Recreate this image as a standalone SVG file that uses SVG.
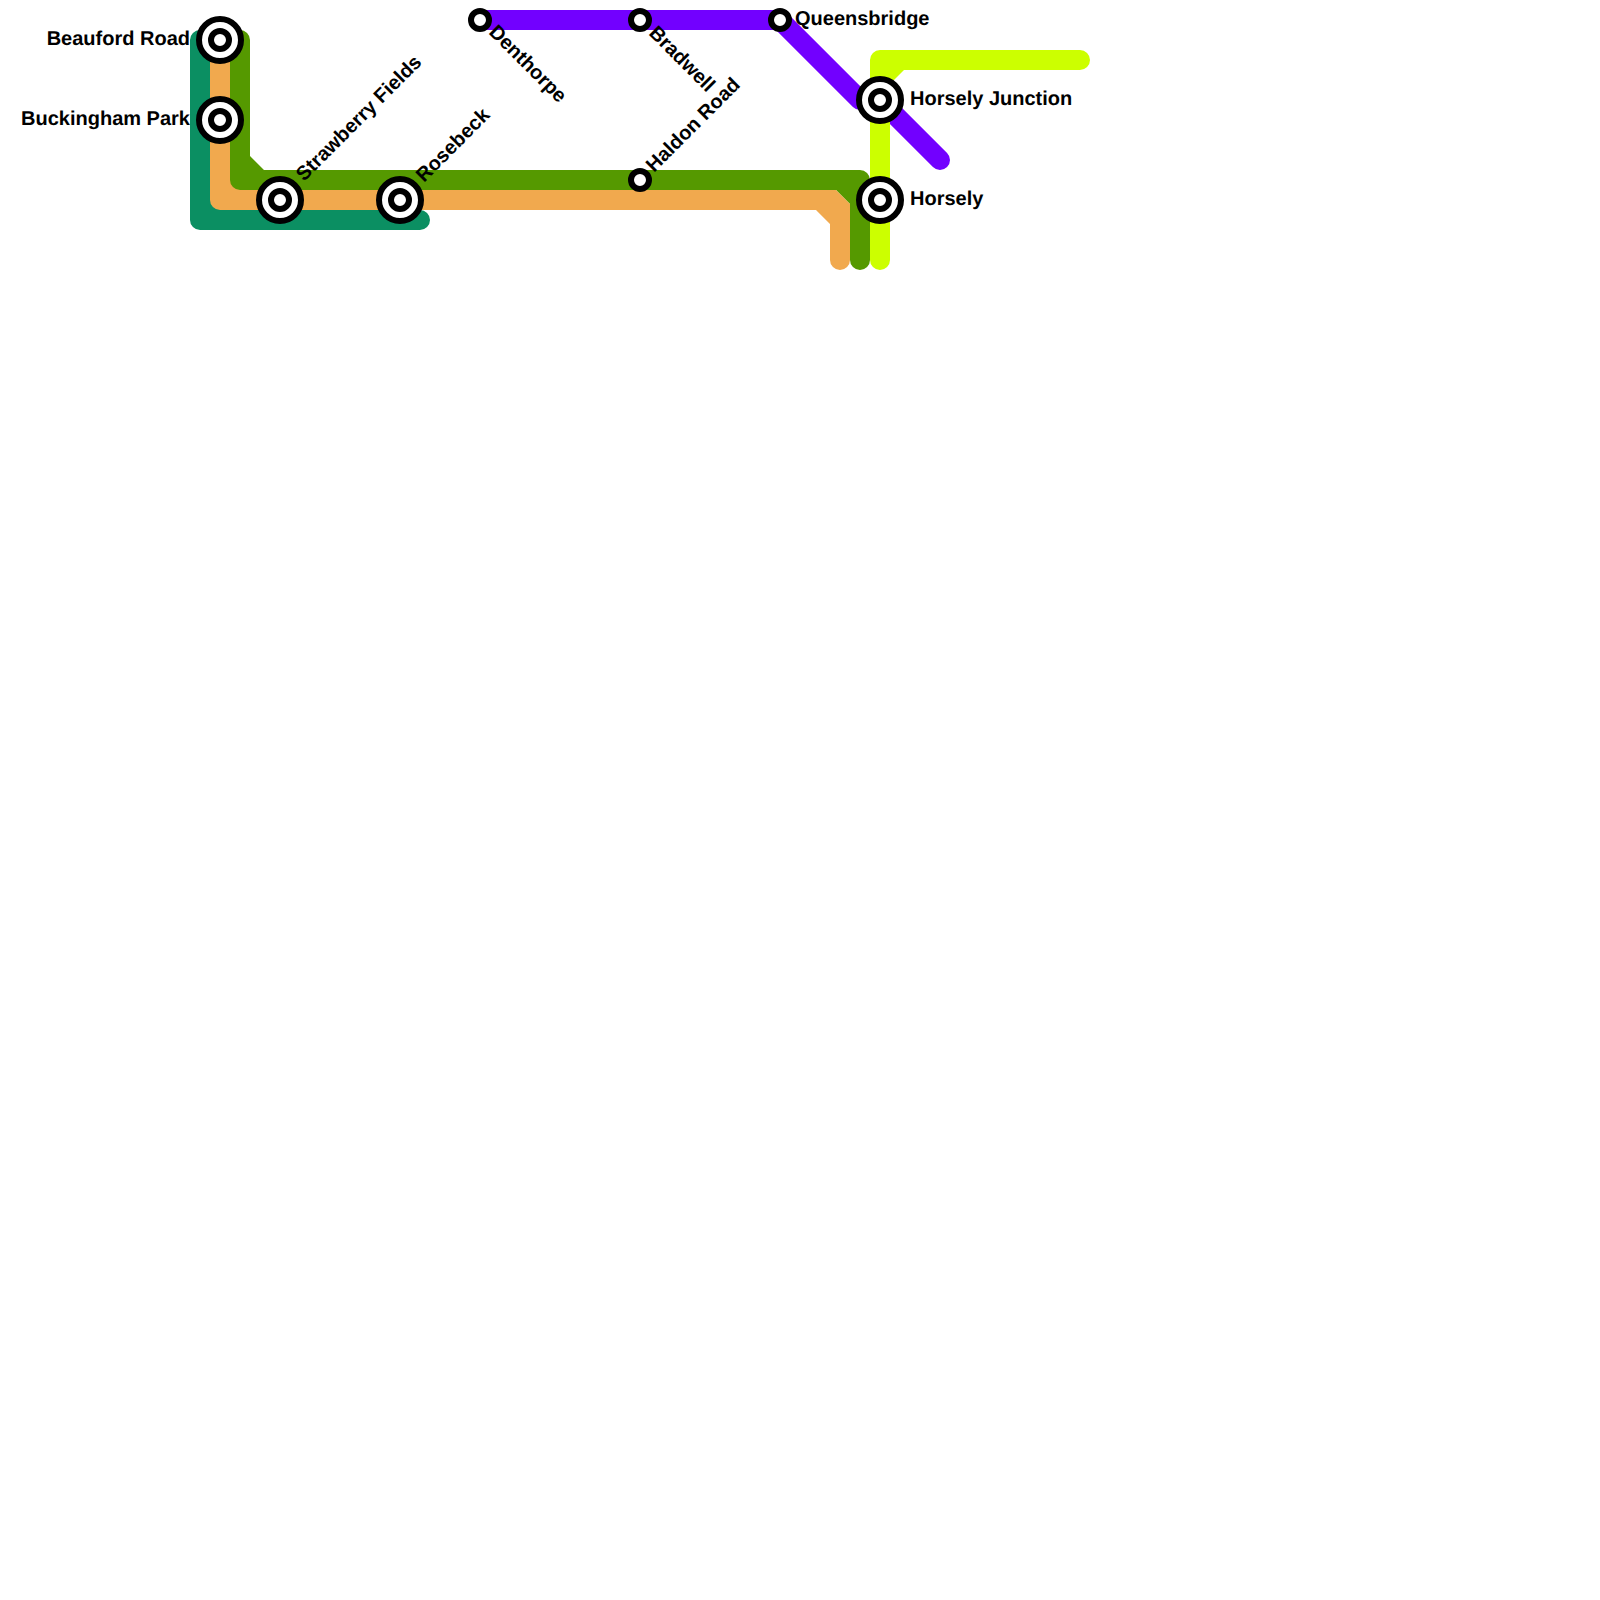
<svg xmlns="http://www.w3.org/2000/svg" width="1600" height="1600" viewBox="0 0 1600 1600">
<style>
.l{fill:none;stroke-width:20;stroke-linecap:round;stroke-linejoin:round}
.t{font-family:"Liberation Sans",Arial,sans-serif;font-weight:700;font-size:20px;fill:#000;text-rendering:geometricPrecision}
.o{fill:#fff;stroke:#000;stroke-width:6}
.i{fill:#fff;stroke:#000;stroke-width:6}
</style>
<rect width="1600" height="1600" fill="#fff"/>
<g id="connectors">
<path class="l" stroke="#7200ff" d="M480 20H780L860 100H880L940 160"/>
<path class="l" stroke="#0b8f62" d="M200 40V220H420"/>
<rect x="208" y="198" width="14" height="14" fill="#0b8f62"/>
<rect x="228" y="178" width="14" height="14" fill="#f1a94e"/>
<path class="l" stroke="#559900" d="M240 40V180H860V260"/>
<path fill="#559900" d="M250 156V170H264ZM836 190H850V204Z"/>
<path class="l" stroke="#f1a94e" d="M220 40V200H600"/>
<path fill="#f1a94e" d="M600 190H836L850 204V260A10 10 0 0 1 830 260V224L816 210H600Z"/>
<path class="l" stroke="#ccff00" d="M1080 60H880V260"/>
<path fill="#ccff00" d="M890 84V70H904Z"/>
</g>
<g id="beauford-road"><circle class="o" cx="220" cy="40" r="21"/><circle class="i" cx="220" cy="40" r="9"/><text class="t" x="190" y="45" text-anchor="end">Beauford Road</text></g>
<g id="buckingham-park"><circle class="o" cx="220" cy="120" r="21"/><circle class="i" cx="220" cy="120" r="9"/><text class="t" x="190" y="125" text-anchor="end">Buckingham Park</text></g>
<g id="strawberry-fields"><circle class="o" cx="280" cy="200" r="21"/><circle class="i" cx="280" cy="200" r="9"/><text class="t" transform="translate(304 182) rotate(-45)">Strawberry Fields</text></g>
<g id="rosebeck"><circle class="o" cx="400" cy="200" r="21"/><circle class="i" cx="400" cy="200" r="9"/><text class="t" transform="translate(424 183) rotate(-45)">Rosebeck</text></g>
<g id="denthorpe"><circle class="i" cx="480" cy="20" r="9"/><text class="t" transform="translate(488 33) rotate(45)">Denthorpe</text></g>
<g id="bradwell"><circle class="i" cx="640" cy="20" r="9"/><text class="t" transform="translate(648 34) rotate(45)">Bradwell</text></g>
<g id="queensbridge"><circle class="i" cx="780" cy="20" r="9"/><text class="t" x="795" y="25">Queensbridge</text></g>
<g id="haldon-road"><circle class="i" cx="640" cy="180" r="9"/><text class="t" transform="translate(654 173) rotate(-45)">Haldon Road</text></g>
<g id="horsely-junction"><circle class="o" cx="880" cy="100" r="21"/><circle class="i" cx="880" cy="100" r="9"/><text class="t" x="910" y="105">Horsely Junction</text></g>
<g id="horsely"><circle class="o" cx="880" cy="200" r="21"/><circle class="i" cx="880" cy="200" r="9"/><text class="t" x="910" y="205">Horsely</text></g>
</svg>
